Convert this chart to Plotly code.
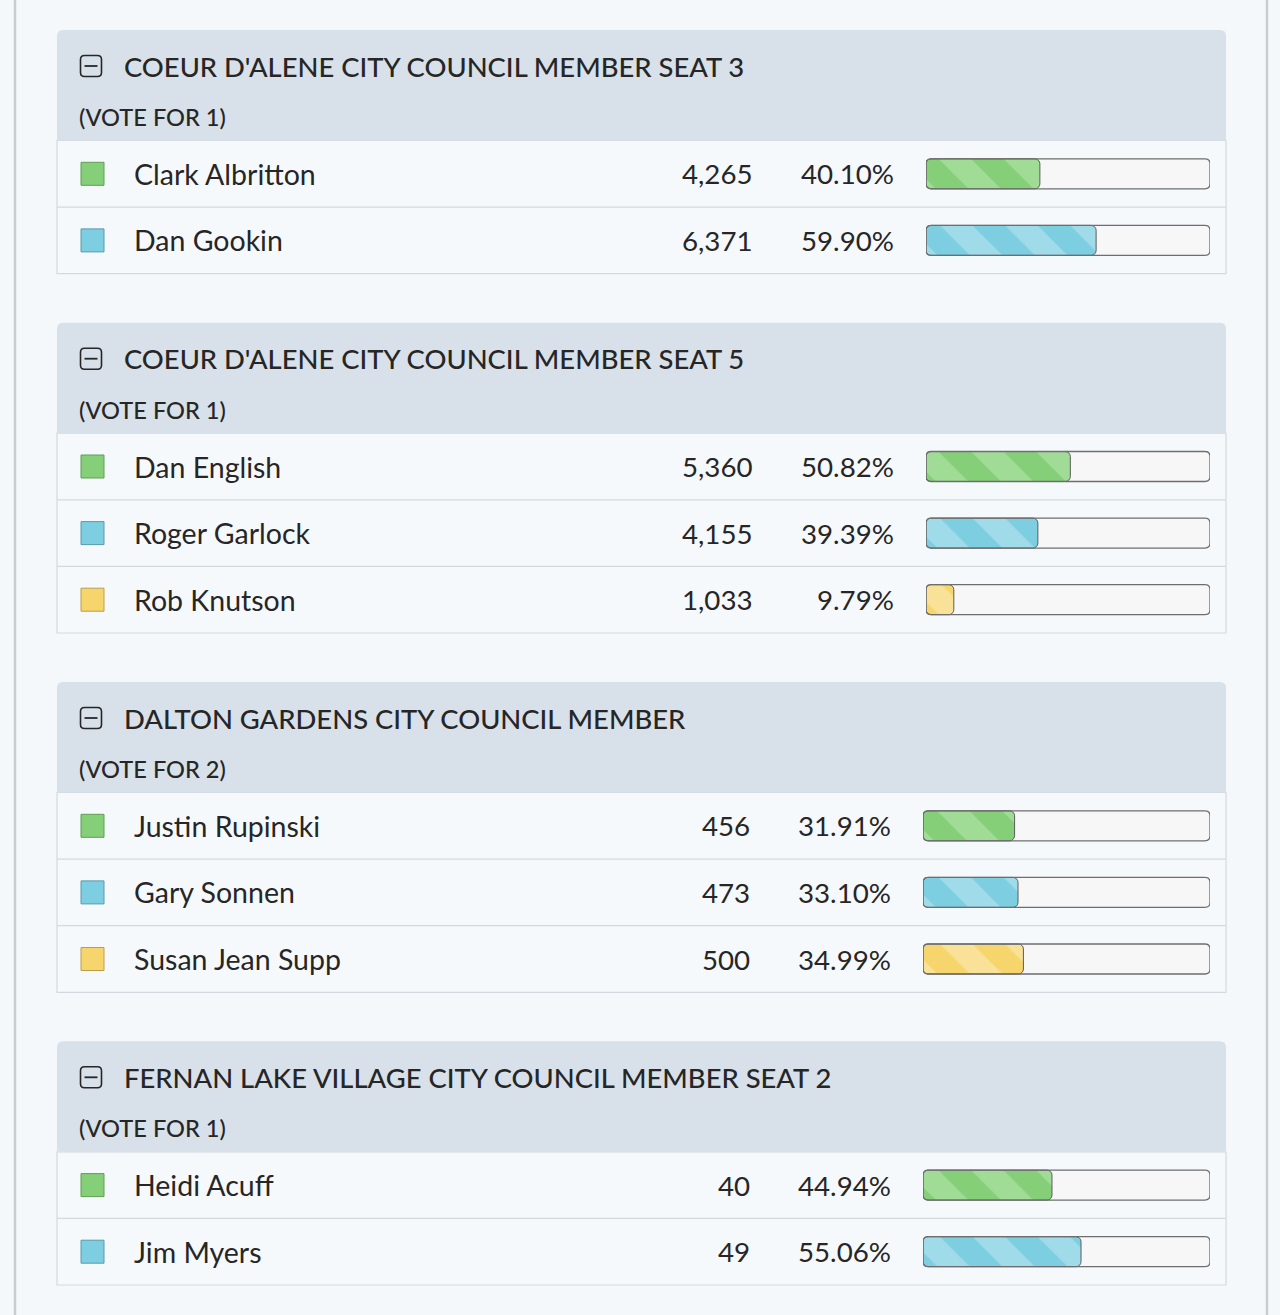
import plotly.graph_objects as go

# ---- data ----
contest_titles = [
    "COEUR D'ALENE CITY COUNCIL MEMBER SEAT 3",
    "COEUR D'ALENE CITY COUNCIL MEMBER SEAT 5",
    "DALTON GARDENS CITY COUNCIL MEMBER",
    "FERNAN LAKE VILLAGE CITY COUNCIL MEMBER SEAT 2",
]
vote_for = [1, 1, 2, 1]
candidates = [
    ["Clark Albritton", "Dan Gookin"],
    ["Dan English", "Roger Garlock", "Rob Knutson"],
    ["Justin Rupinski", "Gary Sonnen", "Susan Jean Supp"],
    ["Heidi Acuff", "Jim Myers"],
]
votes = [
    [4265, 6371],
    [5360, 4155, 1033],
    [456, 473, 500],
    [40, 49],
]
percents = [
    [40.10, 59.90],
    [50.82, 39.39, 9.79],
    [31.91, 33.10, 34.99],
    [44.94, 55.06],
]

# ---- styling ----
W, H = 1280, 1315
FONT = "Lato"
INK = "#262626"
PAGE_BG = "#f5f8fb"
HEAD_BG = "#d8e1ea"
ROW_BG = "#f6f9fc"
SEP = "#d3d9df"
SWATCH = ["#84cf78", "#7ecee1", "#f6d66c"]
SWATCH_EDGE = ["#5e9e55", "#5a9aab", "#b99f4c"]
STRIPE = ["#a0dc95", "#9fdbe9", "#f9e298"]

PANEL_X0, PANEL_X1 = 57, 1226
TOP0 = 30
HEAD_H = 110.5
ROW_H = 66.6
GAP = 49
BAR_H = 30
# the layout shifts a little when the vote counts are narrower
BAR_X0 = [926, 926, 923, 923]
BAR_X1 = 1210
NUM_RIGHT = [755, 755, 752, 752]
PCT_RIGHT = [896, 896, 893, 893]


def rrect(x0, y0, x1, y1, rx, ry, top_only=False):
    """SVG path of a rounded rectangle (y grows downward on our axis)."""
    if top_only:
        return (f"M{x0},{y1} L{x0},{y0 + ry} Q{x0},{y0} {x0 + rx},{y0} "
                f"L{x1 - rx},{y0} Q{x1},{y0} {x1},{y0 + ry} L{x1},{y1} Z")
    return (f"M{x0 + rx},{y0} L{x1 - rx},{y0} Q{x1},{y0} {x1},{y0 + ry} "
            f"L{x1},{y1 - ry} Q{x1},{y1} {x1 - rx},{y1} L{x0 + rx},{y1} "
            f"Q{x0},{y1} {x0},{y1 - ry} L{x0},{y0 + ry} Q{x0},{y0} {x0 + rx},{y0} Z")


fig = go.Figure()
shapes = []
annotations = []

# page side rules
for x in (15, 1267):
    shapes.append(dict(type="line", xref="x", yref="y", x0=x, x1=x, y0=0, y1=H,
                       line=dict(color="#c9cdd1", width=2.5), layer="below"))

top = TOP0
for s, title in enumerate(contest_titles):
    n = len(candidates[s])
    head_bottom = top + HEAD_H
    bottom = head_bottom + n * ROW_H
    xa = f"x{s + 2}"
    px_per_unit = (BAR_X1 - BAR_X0[s]) / 100.0

    # panel body and header
    shapes.append(dict(type="rect", xref="x", yref="y", x0=PANEL_X0, x1=PANEL_X1,
                       y0=head_bottom, y1=bottom, fillcolor=ROW_BG,
                       line=dict(color=SEP, width=1.2), layer="below"))
    shapes.append(dict(type="path", xref="x", yref="y",
                       path=rrect(PANEL_X0, top, PANEL_X1, head_bottom, 6, 6, top_only=True),
                       fillcolor=HEAD_BG, line=dict(width=0), layer="below"))

    # collapse icon
    cy = top + 36
    shapes.append(dict(type="path", xref="x", yref="y",
                       path=rrect(80.5, cy - 10.5, 101.5, cy + 10.5, 4, 4),
                       fillcolor="rgba(0,0,0,0)", line=dict(color=INK, width=1.6)))
    shapes.append(dict(type="line", xref="x", yref="y", x0=84.5, x1=97.5, y0=cy, y1=cy,
                       line=dict(color=INK, width=1.8)))

    annotations.append(dict(x=122, y=cy, xref="x", yref="y", text=title,
                            xanchor="left", yanchor="middle", showarrow=False,
                            font=dict(family=FONT, size=27.4, color=INK, weight=500)))
    annotations.append(dict(x=77, y=top + 87, xref="x", yref="y",
                            text=f"(VOTE FOR {vote_for[s]})",
                            xanchor="left", yanchor="middle", showarrow=False,
                            font=dict(family=FONT, size=23.6, color=INK, weight=500)))

    row_centers = []
    for i in range(n):
        yc = head_bottom + (i + 0.5) * ROW_H
        row_centers.append(yc)
        if i > 0:
            yl = head_bottom + i * ROW_H
            shapes.append(dict(type="line", xref="x", yref="y", x0=PANEL_X0, x1=PANEL_X1,
                               y0=yl, y1=yl, line=dict(color=SEP, width=1.2), layer="below"))
        # colour swatch
        shapes.append(dict(type="rect", xref="x", yref="y", x0=81, x1=104,
                           y0=yc - 11.5, y1=yc + 11.5, fillcolor=SWATCH[i],
                           line=dict(color=SWATCH_EDGE[i], width=1)))
        # bar track (background + outline drawn on the bar axis)
        rx = 5 / px_per_unit
        track = rrect(0, yc - BAR_H / 2, 100, yc + BAR_H / 2, rx, 5)
        shapes.append(dict(type="path", xref=xa, yref="y", path=track,
                           fillcolor="#f7f7f7", line=dict(width=0), layer="below"))
        shapes.append(dict(type="path", xref=xa, yref="y", path=track,
                           fillcolor="rgba(0,0,0,0)", line=dict(color="#6e6e6e", width=1.3)))

        annotations.append(dict(x=132, y=yc, xref="x", yref="y", text=candidates[s][i],
                                xanchor="left", yanchor="middle", showarrow=False,
                                font=dict(family=FONT, size=28.5, color=INK)))
        annotations.append(dict(x=NUM_RIGHT[s], y=yc, xref="x", yref="y",
                                text=f"{votes[s][i]:,}",
                                xanchor="right", yanchor="middle", showarrow=False,
                                font=dict(family=FONT, size=27.7, color=INK)))
        annotations.append(dict(x=PCT_RIGHT[s], y=yc, xref="x", yref="y",
                                text=f"{percents[s][i]:.2f}%",
                                xanchor="right", yanchor="middle", showarrow=False,
                                font=dict(family=FONT, size=27.7, color=INK)))

    # filled part of each bar: drawn from the value back to 0 so the
    # rounded end sits on the left like the original
    for i in range(n):
        p = percents[s][i]
        fig.add_trace(go.Bar(
            orientation="h", y=[row_centers[i]], x=[-p], base=[p], width=BAR_H,
            xaxis=xa, yaxis="y",
            marker=dict(color=SWATCH[i], cornerradius=5,
                        line=dict(color="#5c5c5c", width=1),
                        pattern=dict(shape="\\", size=46, solidity=0.5,
                                     fgcolor=STRIPE[i], bgcolor=SWATCH[i],
                                     fillmode="replace")),
            hovertemplate=f"{candidates[s][i]}: {votes[s][i]:,} ({p:.2f}%)<extra></extra>",
            showlegend=False,
        ))

    top = bottom + GAP

# pixel-space axes for the page furniture
layout_axes = dict(
    xaxis=dict(range=[0, W], domain=[0, 1], visible=False, fixedrange=True),
    yaxis=dict(range=[H, 0], domain=[0, 1], visible=False, fixedrange=True),
)
for s in range(len(contest_titles)):
    layout_axes[f"xaxis{s + 2}"] = dict(
        range=[0, 100], domain=[BAR_X0[s] / W, BAR_X1 / W], anchor="y",
        visible=False, fixedrange=True,
    )

fig.update_layout(
    width=W, height=H,
    margin=dict(l=0, r=0, t=0, b=0),
    paper_bgcolor=PAGE_BG, plot_bgcolor="rgba(0,0,0,0)",
    shapes=shapes, annotations=annotations,
    barmode="overlay", showlegend=False,
    **layout_axes,
)

# drop the browser's default page margin so the figure sits at the window origin
fig.write_html("out.html", config={"displayModeBar": False},
               post_script="document.body.style.margin='0';")
